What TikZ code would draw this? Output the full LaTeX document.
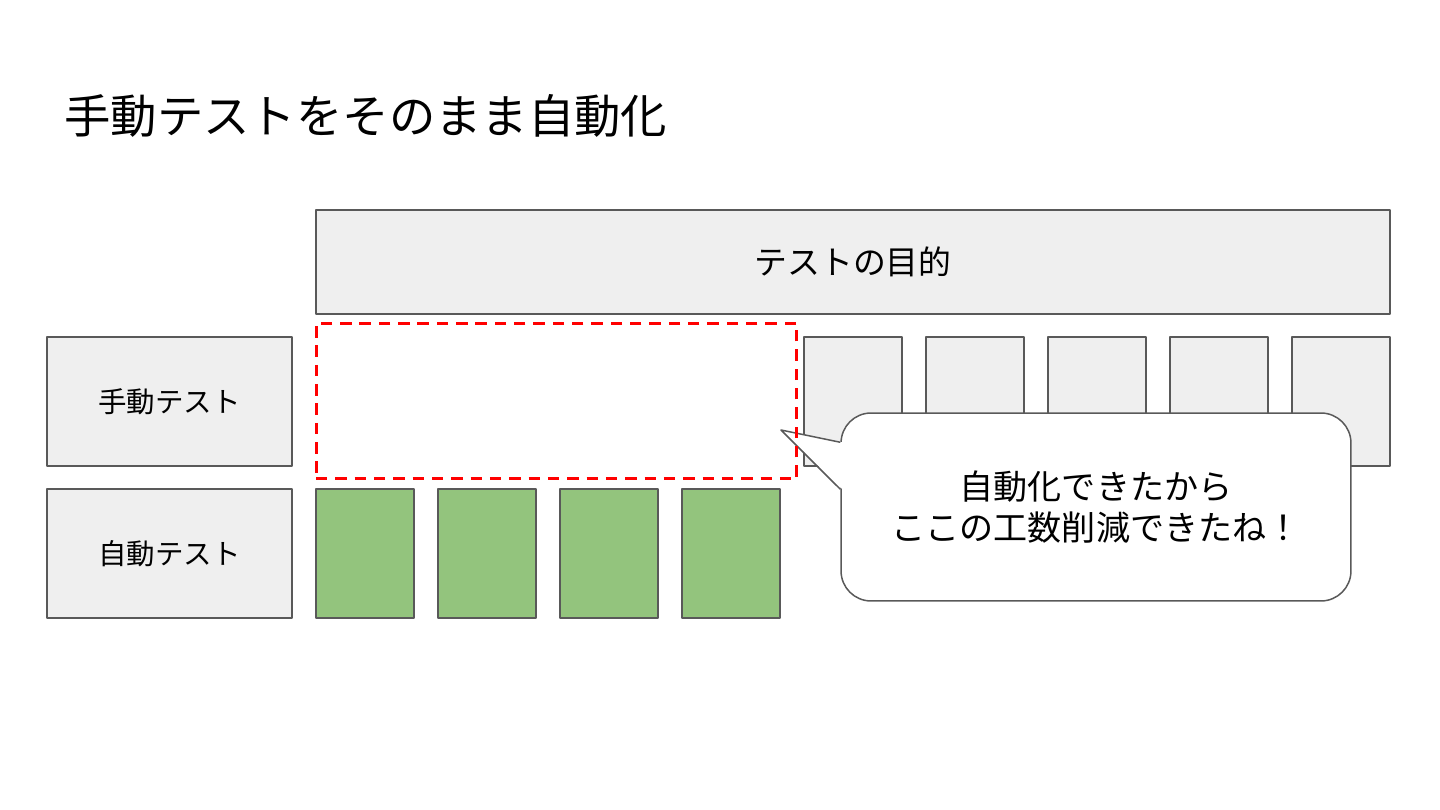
\documentclass[tikz,border=0pt]{standalone}
\usepackage{fontspec}
\setmainfont{Noto Sans CJK JP}
\definecolor{boxgray}{HTML}{EFEFEF}
\definecolor{edgegray}{HTML}{595959}
\definecolor{testgreen}{HTML}{93C47D}
\definecolor{dashred}{HTML}{FF0000}
\tikzset{
  graybox/.style={draw=edgegray,fill=boxgray,line width=0.85pt,inner sep=0pt},
  greenbox/.style={draw=edgegray,fill=testgreen,line width=0.85pt,inner sep=0pt,minimum width=1.96cm,minimum height=2.58cm},
  labelbox/.style={graybox,minimum width=4.9cm,minimum height=2.58cm,font=\fontsize{16.2}{19}\selectfont},
}
\begin{document}
\begin{tikzpicture}[x=0.02cm,y=-0.02cm,line join=round]
	\def\rowA{401.5}
	\def\rowB{553.5}
	\useasboundingbox (0,0) rectangle (1440,810);
	%title
	\node[anchor=west,inner sep=0pt,font=\fontsize{26.4}{30}\selectfont] (title) at (64,116) {手動テストをそのまま自動化};
	%top row
	\node[graybox,minimum width=21.48cm,minimum height=2.08cm,font=\fontsize{18.7}{22}\selectfont] (purpose) at (853,262) {テストの目的};
	\node[labelbox] (manual) at (169.5,\rowA) {手動テスト};
	\node[labelbox] (auto) at (169.5,\rowB) {自動テスト};
	%manual tests that are left
	\foreach \i/\x in {1/853,2/975,3/1097,4/1219,5/1341}
		\node[graybox,minimum width=1.96cm,minimum height=2.58cm] (m\i) at (\x,\rowA) {};
	%automated tests
	\foreach \i/\x in {1/365,2/487,3/609,4/731}
		\node[greenbox] (a\i) at (\x,\rowB) {};
	%speech bubble
	\node[draw=edgegray,fill=white,line width=0.85pt,rounded corners=0.6cm,minimum width=10.2cm,minimum height=3.76cm,align=center,font=\fontsize{19.4}{23.3}\selectfont] (bubble) at (1096,507) {自動化できたから\\ここの工数削減できたね！};
	\coordinate (tip) at (781,430);
	\fill[white] ([yshift=-0.6cm,xshift=0.04cm]bubble.north west) -- (tip) -- ([yshift=-1.54cm,xshift=0.04cm]bubble.north west) -- cycle;
	\draw[edgegray,line width=0.85pt] ([yshift=-0.6cm]bubble.north west) -- (tip) -- ([yshift=-1.54cm]bubble.north west);
	%the part that got automated
	\node[draw=dashred,line width=1.7pt,dash pattern=on 6.5pt off 4.5pt,minimum width=9.62cm,minimum height=3.12cm] (gap) at (556.5,401) {};
\end{tikzpicture}
\end{document}
